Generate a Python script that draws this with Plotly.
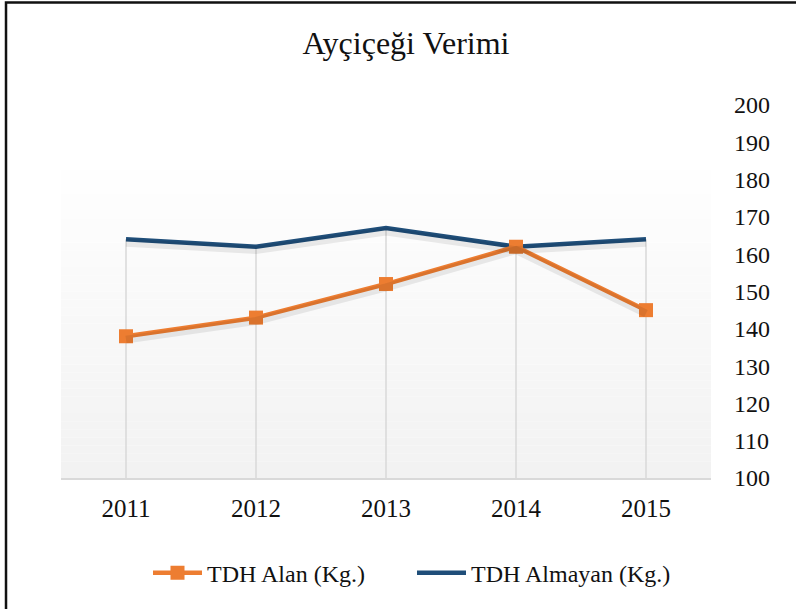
import plotly.graph_objects as go

years = ["2011", "2012", "2013", "2014", "2015"]
tdh_alan = [138, 143, 152, 162, 145]
tdh_almayan = [164, 162, 167, 162, 164]
y_ticks = [100, 110, 120, 130, 140, 150, 160, 170, 180, 190, 200]
y_min, y_max = 100, 200

ORANGE = "#ED7D31"
BLUE = "#1F4E79"
FONT = "'Liberation Serif', 'Times New Roman', Tinos, serif"
TXT = "#111111"

fig = go.Figure()

# drop lines from the highest series value down to the axis
dx, dy = [], []
for yr, a, b in zip(years, tdh_alan, tdh_almayan):
    dx += [yr, yr, None]
    dy += [max(a, b), y_min, None]
fig.add_trace(go.Scatter(x=dx, y=dy, mode="lines", line=dict(color="#D9D9D9", width=1.5),
                         showlegend=False, hoverinfo="skip", connectgaps=False))

# soft shadows (drawn on an overlaid axis shifted a few pixels)
for vals in (tdh_almayan, tdh_alan):
    fig.add_trace(go.Scatter(x=years, y=vals, yaxis="y2", mode="lines",
                             line=dict(color="rgba(0,0,0,0.08)", width=8),
                             showlegend=False, hoverinfo="skip"))

fig.add_trace(go.Scatter(x=years, y=tdh_almayan, name="TDH Almayan (Kg.)", mode="lines",
                         line=dict(color=BLUE, width=4.5)))
fig.add_trace(go.Scatter(x=years, y=tdh_alan, name="TDH Alan (Kg.)", mode="lines+markers",
                         line=dict(color=ORANGE, width=4.5),
                         marker=dict(symbol="square", size=14, color=ORANGE)))

# gradient background bands in plot area
n = 40
top, bot = 187.0, 100.0
for i in range(n):
    y0 = bot + (top - bot) * i / n
    y1 = bot + (top - bot) * (i + 1) / n
    t = (i + 0.5) / n
    c = int(round(242 + (255 - 242) * t))
    fig.add_shape(type="rect", xref="paper", x0=0, x1=1, yref="y", y0=y0, y1=y1,
                  fillcolor=f"rgb({c},{c},{c})", line=dict(width=0), layer="below")

# outer border (top and left visible)
fig.add_shape(type="rect", xref="paper", yref="paper", x0=-0.0846, x1=1.6, y0=-1.0, y1=1.2748,
              line=dict(color="#111111", width=2.5), fillcolor="rgba(0,0,0,0)", layer="above")

shift = 0.9
fig.update_layout(
    width=796, height=609,
    margin=dict(l=61, r=85, t=105, b=131, autoexpand=False),
    paper_bgcolor="white", plot_bgcolor="white",
    font=dict(family=FONT, size=24, color=TXT),
    title=dict(text="Ayçiçeği Verimi", x=0.51, xanchor="center", y=0.93, yanchor="middle",
               font=dict(family=FONT, size=32, color=TXT)),
    xaxis=dict(type="category", range=[-0.5, 4.5], showgrid=False,
               showline=True, linecolor="#D9D9D9", linewidth=2, ticks="", ticklabelstandoff=7,
               tickfont=dict(family=FONT, size=25, color=TXT), zeroline=False),
    yaxis=dict(side="right", range=[y_min, y_max], tickvals=y_ticks, showgrid=False, showline=False,
               zeroline=False, ticks="", ticklabelstandoff=22,
               tickfont=dict(family=FONT, size=24, color=TXT)),
    yaxis2=dict(overlaying="y", range=[y_min + shift, y_max + shift], visible=False),
    legend=dict(orientation="h", x=(148 - 61) / 650, xanchor="left", y=-0.255, yanchor="middle",
                font=dict(family=FONT, size=24, color=TXT), traceorder="reversed",
                itemwidth=49, entrywidth=200, entrywidthmode="pixels",
                bgcolor="rgba(0,0,0,0)"),
    showlegend=True,
)

fig.write_html("out.html", config={"displayModeBar": False},
               post_script="document.body.style.margin='0';")
